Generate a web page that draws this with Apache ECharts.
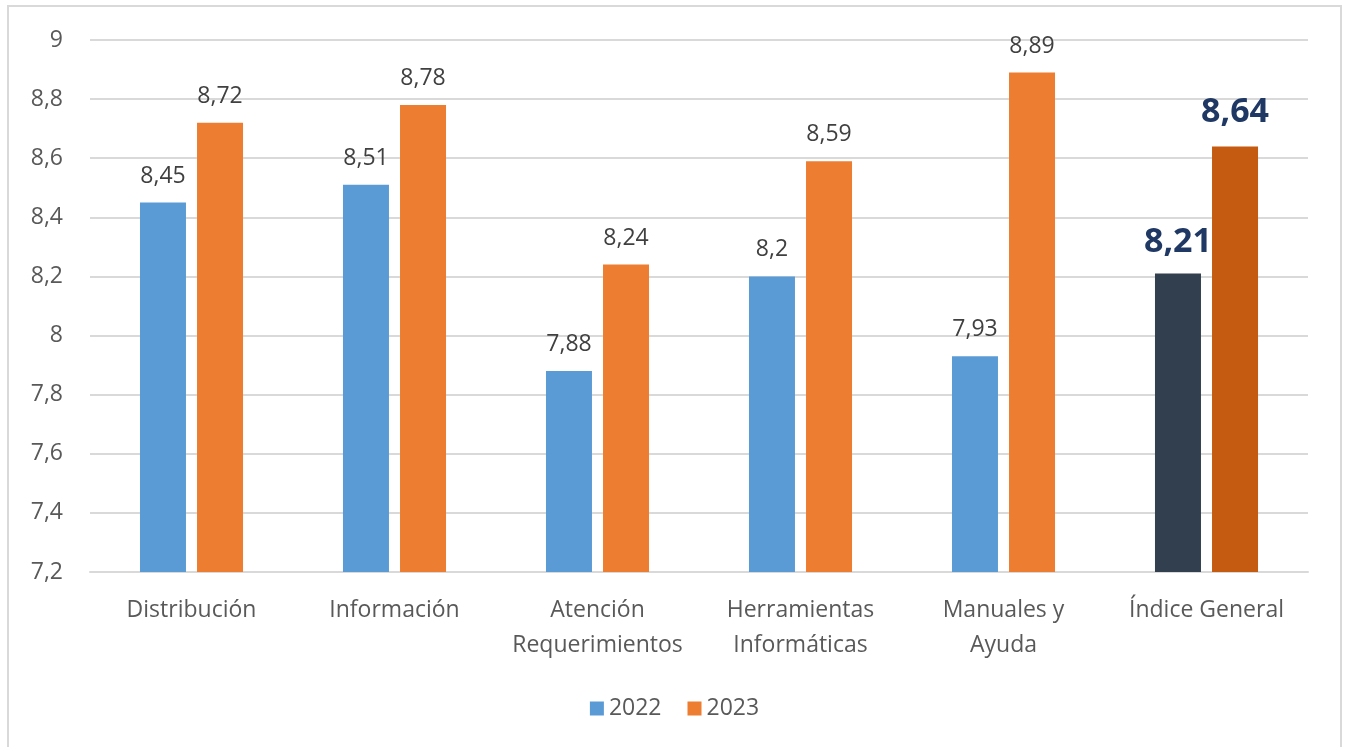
<!DOCTYPE html>
<html><head><meta charset="utf-8">
<script src="https://cdn.jsdelivr.net/npm/echarts@6/dist/echarts.min.js"></script>
<style>html,body{margin:0;padding:0;background:#fff}#c{width:1349px;height:747px}</style>
</head><body><div id="c"></div>
<script>
const categories = ['Distribución','Información','Atención\nRequerimientos','Herramientas\nInformáticas','Manuales y\nAyuda','Índice General'];
const values2022 = [8.45, 8.51, 7.88, 8.2, 7.93, 8.21];
const values2023 = [8.72, 8.78, 8.24, 8.59, 8.89, 8.64];
const seriesNames = ['2022','2023'];
const yMin = 7.2, yMax = 9, yStep = 0.2;

const FONT = '"Open Sans", "Noto Sans", sans-serif';
const fmt = v => String(Math.round(v*100)/100).replace('.', ',');
const lastIdx = categories.length - 1;

function buildData(vals, normalColor, specialColor, dist) {
  return vals.map((v, i) => {
    if (i === lastIdx) {
      return {value: v, itemStyle: {color: specialColor},
        label: {fontSize: 34, fontWeight: 'bold', color: '#1F3864', distance: dist}};
    }
    return {value: v, itemStyle: {color: normalColor}};
  });
}

const chart = echarts.init(document.getElementById('c'));
chart.setOption({
  animation: false,
  textStyle: {fontFamily: FONT},
  graphic: [{type: 'rect', shape: {x: 8, y: 6, width: 1333, height: 750},
    style: {fill: 'none', stroke: '#D9D9D9', lineWidth: 2}, silent: true}],
  grid: {left: 90, right: 41, top: 40, bottom: 175},
  legend: {bottom: 22, left: 'center', itemWidth: 14, itemHeight: 14, itemGap: 26,
    icon: 'rect', textStyle: {fontSize: 23, color: '#595959', fontFamily: FONT},
    data: seriesNames},
  xAxis: {type: 'category', data: categories,
    axisLine: {lineStyle: {color: '#D9D9D9', width: 2}},
    axisTick: {show: false},
    axisLabel: {fontSize: 23, color: '#595959', lineHeight: 35, margin: 21, interval: 0, fontFamily: FONT}},
  yAxis: {type: 'value', min: yMin, max: yMax, interval: yStep,
    axisLine: {show: false}, axisTick: {show: false},
    splitLine: {lineStyle: {color: '#D9D9D9', width: 2}},
    axisLabel: {fontSize: 23, color: '#595959', margin: 27, fontFamily: FONT,
      formatter: v => String(Math.round(v*10)/10).replace('.', ',')}},
  series: [
    {name: seriesNames[0], type: 'bar', barWidth: 46, barGap: '24%', color: '#5B9BD5',
     data: buildData(values2022, '#5B9BD5', '#323F4F', 14),
     label: {show: true, position: 'top', distance: 15, fontSize: 23, color: '#404040', fontFamily: FONT,
       formatter: p => fmt(p.value)}},
    {name: seriesNames[1], type: 'bar', barWidth: 46, barGap: '24%', color: '#ED7D31',
     data: buildData(values2023, '#ED7D31', '#C55A11', 17),
     label: {show: true, position: 'top', distance: 15, fontSize: 23, color: '#404040', fontFamily: FONT,
       formatter: p => fmt(p.value)}}
  ]
});
</script></body></html>
